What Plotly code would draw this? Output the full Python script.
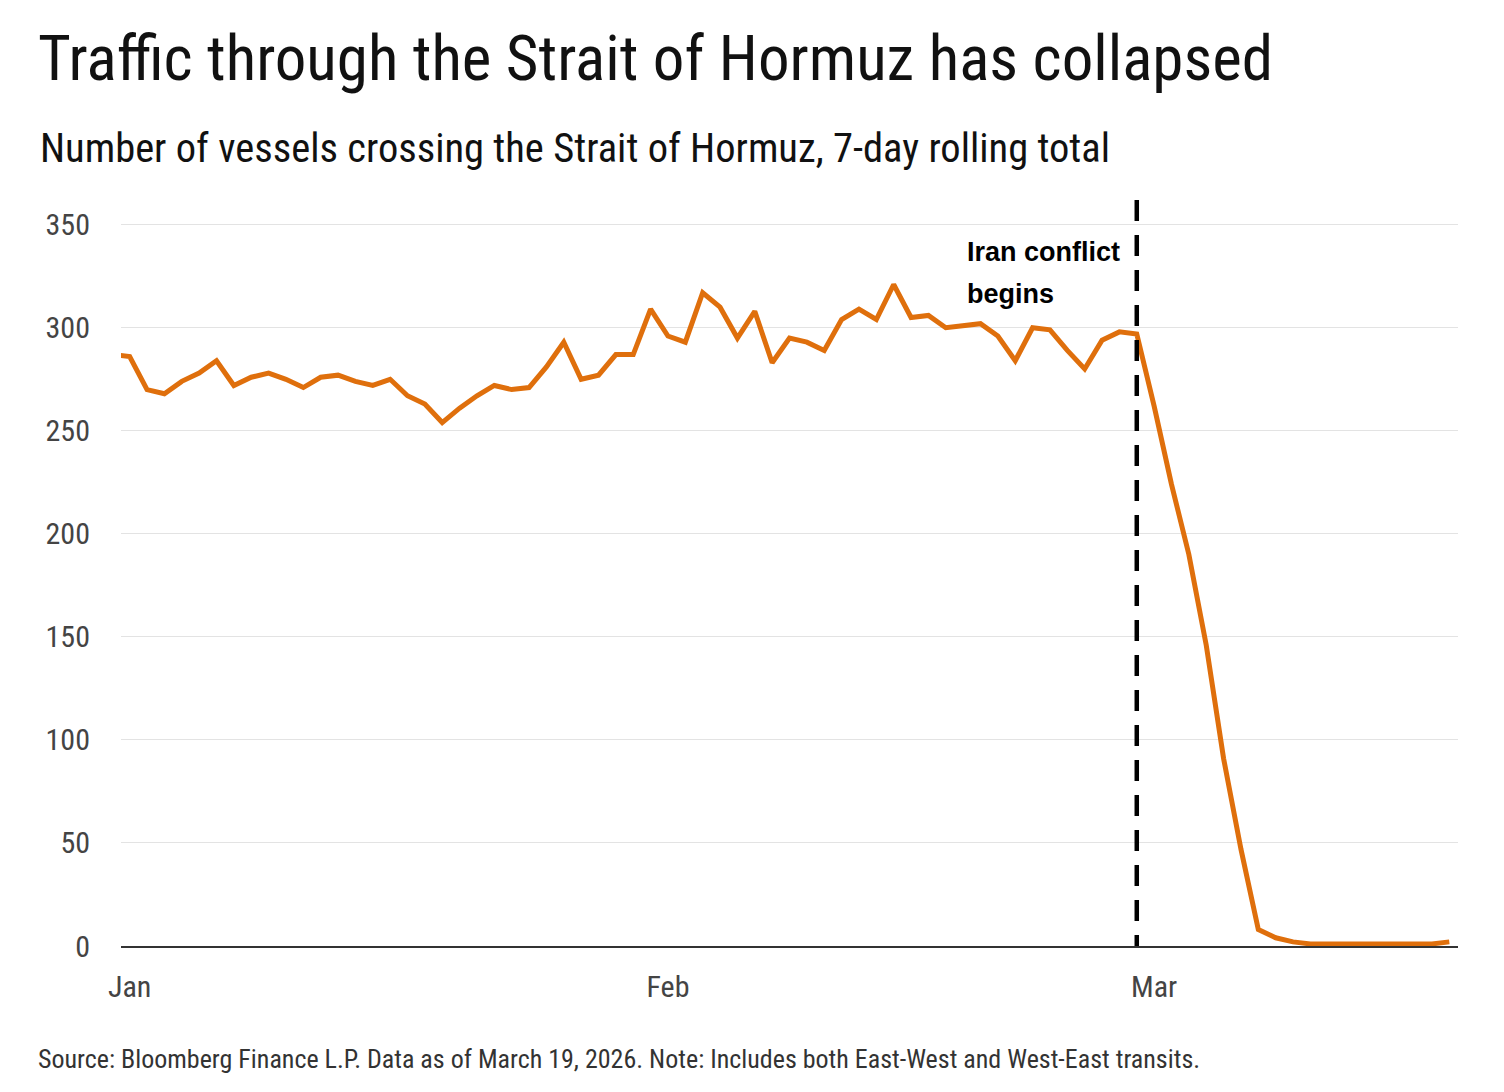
import pandas as pd
import plotly.graph_objects as go

# 7-day rolling total of vessels crossing the Strait of Hormuz
dates = pd.date_range("2025-12-31", "2026-03-18", freq="D")
vessels = [
    287,                                                        # Dec 31
    286, 270, 268, 274, 278, 284, 272, 276, 278, 275,           # Jan 1-10
    271, 276, 277, 274, 272, 275, 267, 263, 254, 261,           # Jan 11-20
    267, 272, 270, 271, 281, 293, 275, 277, 287, 287, 309,      # Jan 21-31
    296, 293, 317, 310, 295, 308, 283, 295, 293, 289,           # Feb 1-10
    304, 309, 304, 321, 305, 306, 300, 301, 302, 296,           # Feb 11-20
    284, 300, 299, 289, 280, 294, 298, 297,                     # Feb 21-28
    262, 224, 190, 146, 91, 47, 8, 4, 2, 1,                     # Mar 1-10
    1, 1, 1, 1, 1, 1, 1, 2,                                     # Mar 11-18
]

tick_dates = ["2026-01-01", "2026-02-01", "2026-03-01"]
tick_labels = ["Jan", "Feb", "Mar"]
y_ticks = [0, 50, 100, 150, 200, 250, 300, 350]

conflict_date = "2026-02-28"

title = "Traffic through the Strait of Hormuz has collapsed"
subtitle = "Number of vessels crossing the Strait of Hormuz, 7-day rolling total"
footer = ("Source: Bloomberg Finance L.P. Data as of March 19, 2026. "
          "Note: Includes both East-West and West-East transits.")

# page body has an 8px margin, so work in screen pixels and shift
OFF = 8
W, H = 1504 - 2 * OFF, 1092 - 2 * OFF
L, R, T, B = 121 - OFF, 1458 - OFF, 200 - OFF, 946 - OFF
narrow = "Roboto Condensed, Liberation Sans Narrow, sans-serif"
orange = "#DF6F0C"


def px(x):
    return (x - OFF - L) / (R - L)


def py(y):
    return (B - (y - OFF)) / (B - T)


fig = go.Figure()
fig.add_trace(go.Scatter(
    x=dates, y=vessels, mode="lines",
    line=dict(color=orange, width=5),
    hoverinfo="x+y", showlegend=False,
))

# vertical dashed marker for the start of the conflict (drawn top-down)
fig.add_shape(type="line", xref="x", yref="paper",
              x0=conflict_date, x1=conflict_date, y0=1, y1=0,
              line=dict(color="black", width=4.5, dash="21px,14px"))

fig.add_annotation(x="2026-02-18 02:00", y=337, xanchor="left", yanchor="middle",
                   text="<b>Iran conflict</b>", showarrow=False,
                   font=dict(family="Liberation Sans, Arial", size=27, color="black"))
fig.add_annotation(x="2026-02-18 02:00", y=316.5, xanchor="left", yanchor="middle",
                   text="<b>begins</b>", showarrow=False,
                   font=dict(family="Liberation Sans, Arial", size=27, color="black"))

fig.add_annotation(xref="paper", yref="paper", x=px(38), y=py(148),
                   xanchor="left", yanchor="middle", text=subtitle, showarrow=False,
                   font=dict(family=narrow, size=40.5, color="#111111"))
fig.add_annotation(xref="paper", yref="paper", x=px(36), y=py(1059),
                   xanchor="left", yanchor="middle", text=footer, showarrow=False,
                   font=dict(family=narrow, size=26, color="#333333"))

fig.update_layout(
    width=W, height=H,
    margin=dict(l=L, r=W - R, t=T, b=H - B),
    paper_bgcolor="white", plot_bgcolor="white",
    title=dict(text=title, xref="container", yref="container",
               x=(38 - OFF) / W, xanchor="left", y=1 - (58 - OFF) / H, yanchor="middle",
               font=dict(family=narrow, size=63, color="#111111")),
    xaxis=dict(
        range=["2025-12-31 12:00", "2026-03-18 12:00"],
        tickvals=tick_dates, ticktext=tick_labels,
        showgrid=False, zeroline=False,
        showline=True, linecolor="#333333", linewidth=1.5,
        ticks="outside", ticklen=13, tickcolor="rgba(0,0,0,0)",
        tickfont=dict(family=narrow, size=30, color="#444444"),
    ),
    yaxis=dict(
        range=[0, 362], tickvals=y_ticks,
        showgrid=True, gridcolor="#e3e3e3", gridwidth=1,
        zeroline=False, showline=False,
        ticks="outside", ticklen=24, tickcolor="rgba(0,0,0,0)",
        tickfont=dict(family=narrow, size=30, color="#444444"),
    ),
)

fig.write_html("out.html")
